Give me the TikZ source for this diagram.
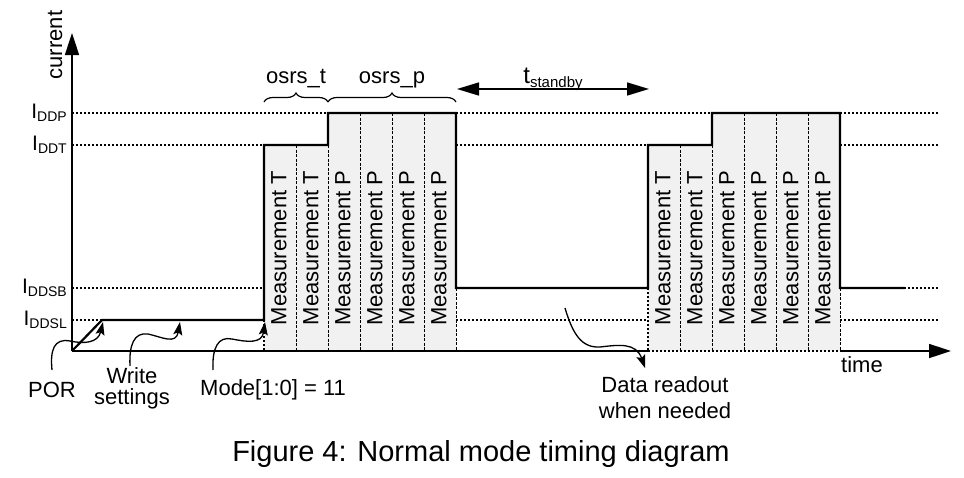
\documentclass[tikz,border=0pt]{standalone}
\usepackage{fontspec}
\setmainfont{Liberation Sans}
\usetikzlibrary{arrows.meta,decorations.pathreplacing}
\newcommand\myfs[2]{\fontsize{#1}{#2}\selectfont}
\definecolor{blkgray}{HTML}{F1F1F1}
\begin{document}
\begin{tikzpicture}[x=1pt,y=-1pt,
  lvl/.style={line width=1.5pt,dash pattern=on 2pt off 2pt},
  cur/.style={line width=2.2pt,line join=miter},
  axisline/.style={line width=1.6pt},
  divline/.style={line width=0.9pt,dash pattern=on 3pt off 1.5pt},
  blk/.style={fill=blkgray,draw=none},
  meas/.style={font=\myfs{22}{26},rotate=90,inner sep=0pt},
  lab/.style={font=\myfs{22}{26},inner sep=0pt},
  ilab/.style={font=\myfs{21}{24},inner sep=0pt,anchor=base east},
  note/.style={line width=1.3pt,-{Stealth[length=13pt,width=9pt,inset=2.5pt]}},
  brc/.style={decorate,decoration={brace,amplitude=9pt},line width=1.2pt},
  bigtip/.style={-{Triangle[length=22pt,width=14pt]}},
]
\useasboundingbox (0,0) rectangle (964,477);

% key coordinates
\coordinate (O) at (72,351);
\coordinate (Ytip) at (72,33);
\coordinate (Xtip) at (951,351);

% level dotted lines
\draw[lvl] (72,113) -- (938,113);
\draw[lvl] (72,145) -- (938,145);
\draw[lvl] (72,288) -- (938,288);
\draw[lvl] (72,320) -- (938,320);

% blocks
\fill[blk] (264,145) rectangle (328,351);
\fill[blk] (328,113) rectangle (456,351);
\fill[blk] (648,145) rectangle (712,351);
\fill[blk] (712,113) rectangle (840,351);

% dividers
\draw[divline] (296,145) -- (296,351);
\draw[divline] (328,145) -- (328,351);
\draw[divline] (360,113) -- (360,351);
\draw[divline] (392,113) -- (392,351);
\draw[divline] (424,113) -- (424,351);
\draw[divline] (680,145) -- (680,351);
\draw[divline] (712,145) -- (712,351);
\draw[divline] (744,113) -- (744,351);
\draw[divline] (776,113) -- (776,351);
\draw[divline] (808,113) -- (808,351);
\draw[lvl] (264,320) -- (264,351);
\draw[divline] (456,288) -- (456,351);
\draw[lvl] (648,288) -- (648,351);
\draw[divline] (840,288) -- (840,351);

% axes
\draw[axisline,bigtip] (O) -- (Ytip);
\draw[axisline] (O) -- (648,351);
\draw[lvl] (648,351) -- (840,351);
\draw[axisline,bigtip] (840,351) -- (Xtip);

% current waveform
\draw[cur] (O) -- (102,320) -- (264,320) -- (264,145) -- (328,145) -- (328,113)
  -- (456,113) -- (456,288) -- (648,288) -- (648,145) -- (712,145) -- (712,113)
  -- (840,113) -- (840,288) -- (905,288);

% measurement labels
\node[meas] (m1) at (279,248) {Measurement T};
\node[meas] (m2) at (311,248) {Measurement T};
\node[meas] (m3) at (343,248) {Measurement P};
\node[meas] (m4) at (375,248) {Measurement P};
\node[meas] (m5) at (407,248) {Measurement P};
\node[meas] (m6) at (439,248) {Measurement P};
\node[meas] (m7) at (663,248) {Measurement T};
\node[meas] (m8) at (695,248) {Measurement T};
\node[meas] (m9) at (727,248) {Measurement P};
\node[meas] (m10) at (759,248) {Measurement P};
\node[meas] (m11) at (791,248) {Measurement P};
\node[meas] (m12) at (823,248) {Measurement P};

% axis labels
\node[lab,rotate=90] (cur) at (55,45) {current};
\node[lab,anchor=base] (time) at (862,372) {time};

% level labels
\node[ilab] (lP) at (67,118) {I\raisebox{-3pt}{\myfs{14}{14}DDP}};
\node[ilab] (lT) at (67,150) {I\raisebox{-3pt}{\myfs{14}{14}DDT}};
\node[ilab] (lSB) at (67,293) {I\raisebox{-3pt}{\myfs{14}{14}DDSB}};
\node[ilab] (lSL) at (67,325) {I\raisebox{-3pt}{\myfs{14}{14}DDSL}};

% braces
\coordinate (b1) at (264,102);
\coordinate (b2) at (328,102);
\coordinate (b3) at (456,102);
\draw[brc] (b1) -- (b2);
\draw[brc] (b2) -- (b3);
\node[lab,anchor=base] (ot) at (296,83) {osrs\_t};
\node[lab,anchor=base] (op) at (392,83) {osrs\_p};

% t_standby
\coordinate (s1) at (457,89);
\coordinate (s2) at (649,89);
\draw[line width=1.6pt,{Triangle[length=22pt,width=13pt]}-{Triangle[length=22pt,width=13pt]}] (s1) -- (s2);
\node[lab,anchor=base,font=\myfs{24}{28}] (ts) at (553,83) {t\raisebox{-4pt}{\myfs{15}{15}standby}};

% bottom labels
\node[lab,anchor=base] (por) at (52,397) {POR};
\node[lab,anchor=north,align=center,font=\myfs{22}{21}] (ws) at (132,367) {Write\\settings};
\node[lab,anchor=base west,font=\myfs{22}{26}] (mode) at (200,395) {Mode[1:0] = 11};
\node[lab,anchor=north,align=center,font=\myfs{22}{26}] (dr) at (665,376) {Data readout\\when needed};
\node[lab,anchor=base,font=\myfs{29}{34}] (cap) at (481,461) {Figure 4: Normal mode timing diagram};

% annotation arrows
\coordinate (porS) at (52,370);
\coordinate (porE) at (103,322);
\draw[note] (porS) .. controls (50,350) and (54,338) .. (70,341)
  .. controls (84,344) and (98,343) .. (porE);
\coordinate (wsS) at (130,366);
\coordinate (wsE) at (180,322);
\draw[note] (wsS) .. controls (129,345) and (134,332) .. (148,334)
  .. controls (162,337) and (176,345) .. (wsE);
\coordinate (mdS) at (213,370);
\coordinate (mdE) at (265,322);
\draw[note] (mdS) .. controls (212,348) and (218,336) .. (232,339)
  .. controls (247,342) and (262,344) .. (mdE);
\coordinate (drS) at (565,308);
\coordinate (drE) at (645,368);
\draw[note] (drS) .. controls (573,335) and (582,348) .. (600,347)
  .. controls (618,345) and (636,342) .. (drE);
\end{tikzpicture}
\end{document}
